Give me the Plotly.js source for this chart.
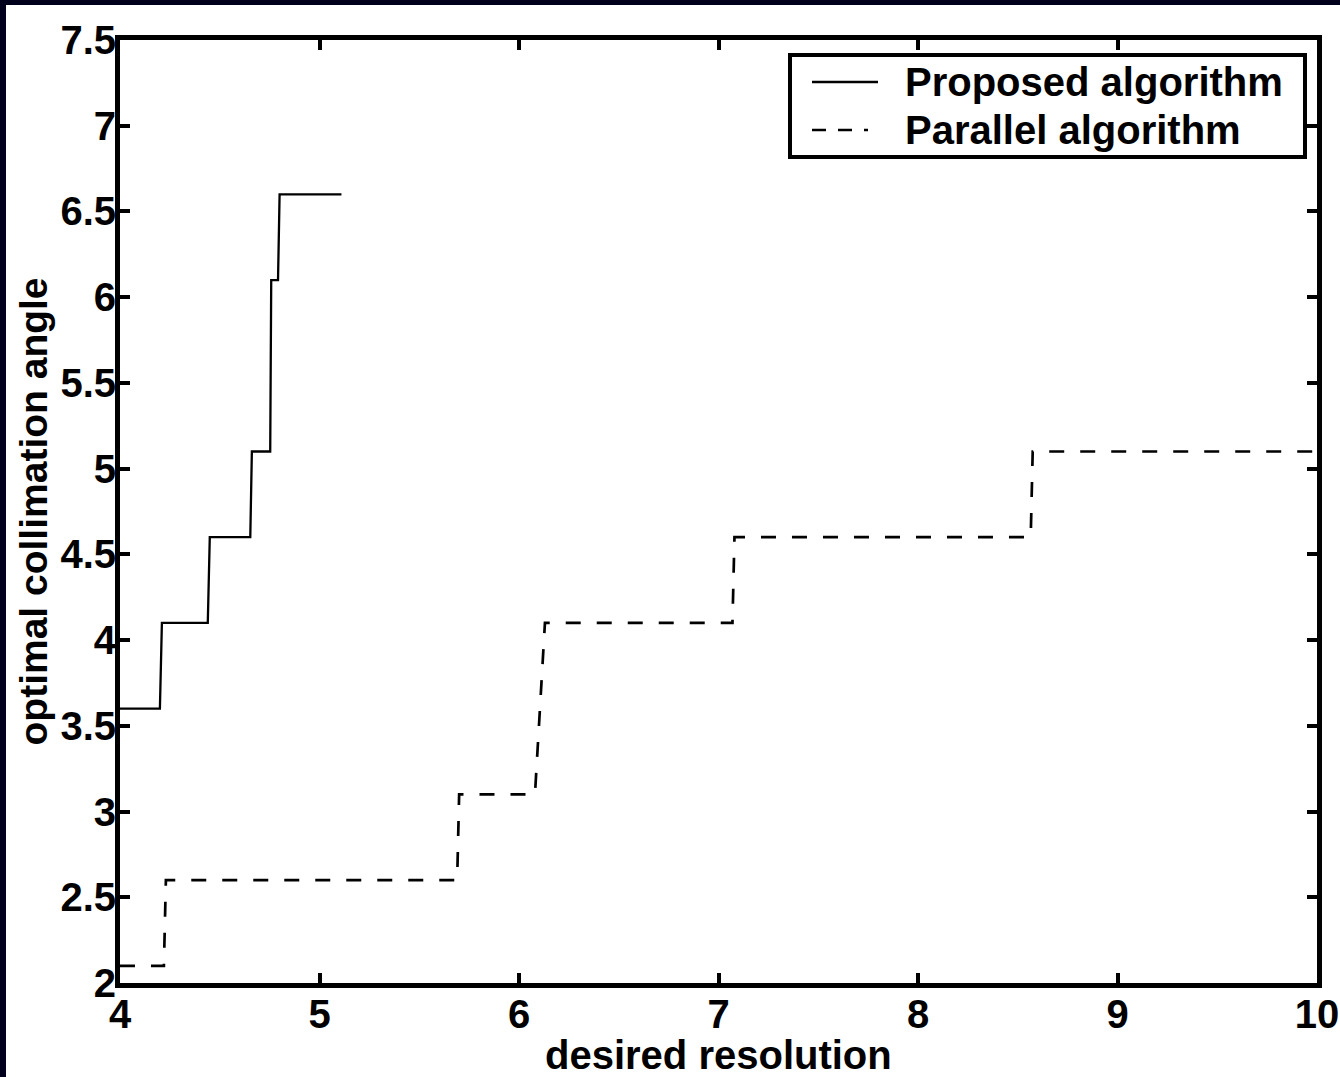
<!DOCTYPE html>
<html>
<head>
<meta charset="utf-8">
<script src="https://cdn.plot.ly/plotly-3.0.1.min.js"></script>
<style>
html,body{margin:0;padding:0;background:#00001c;width:1340px;height:1077px;overflow:hidden;}
#chart{position:absolute;left:6px;top:5px;width:1334px;height:1072px;background:#fff;}
</style>
</head>
<body>
<div id="chart"></div>
<script>
// Proposed algorithm (solid step line)
const proposedX = [4.0, 4.20, 4.21, 4.44, 4.45, 4.653, 4.661, 4.753, 4.758, 4.792, 4.80, 5.11];
const proposedY = [3.6, 3.6, 4.1, 4.1, 4.6, 4.6, 5.1, 5.1, 6.1, 6.1, 6.6, 6.6];
// Parallel algorithm (dashed step line)
const parallelX = [4.0, 4.22, 4.23, 5.69, 5.70, 6.08, 6.13, 7.07, 7.08, 8.565, 8.575, 10.0];
const parallelY = [2.1, 2.1, 2.6, 2.6, 3.1, 3.1, 4.1, 4.1, 4.6, 4.6, 5.1, 5.1];
const xTicks = [4, 5, 6, 7, 8, 9, 10];
const yTicks = [2, 2.5, 3, 3.5, 4, 4.5, 5, 5.5, 6, 6.5, 7, 7.5];
const seriesNames = ['Proposed algorithm', 'Parallel algorithm'];
const xTitle = 'desired resolution';
const yTitle = 'optimal collimation angle';

const F = {family: 'Liberation Sans, Arial, sans-serif', size: 40, weight: 'bold', color: '#000'};
const FT = {family: 'Liberation Sans, Arial, sans-serif', size: 39, weight: 'bold', color: '#000'};

const solidLine = {color: '#000', width: 2.3};
const dashLine = {color: '#000', width: 2.7, dash: '15px,16px'};

const traces = [
  {x: proposedX, y: proposedY, type: 'scatter', mode: 'lines', name: seriesNames[0], line: solidLine},
  {x: parallelX, y: parallelY, type: 'scatter', mode: 'lines', name: seriesNames[1], line: dashLine}
];

// plot-area geometry (page pixels) used only to place the legend box
const M = {l: 114, r: 23, t: 35, b: 94};
const W = 1334, H = 1072, offX = 6, offY = 5;
const pL = offX + M.l, pW = W - M.l - M.r, pT = offY + M.t, pH = H - M.t - M.b;
const px = v => (v - pL) / pW;          // page x -> paper x
const py = v => (pT + pH - v) / pH;     // page y -> paper y

const axisCommon = {
  showline: true, linecolor: '#000', linewidth: 5, mirror: 'ticks',
  ticks: 'inside', ticklen: 10, tickwidth: 4, tickcolor: '#000',
  showgrid: false, zeroline: false, tickfont: F
};

const legendBox = {x0: 790, x1: 1305, y0: 55, y1: 157};
const rowY = [82, 130];

const layout = {
  width: W, height: H,
  margin: M,
  paper_bgcolor: '#fff', plot_bgcolor: '#fff',
  font: F,
  showlegend: false,
  xaxis: Object.assign({}, axisCommon, {range: [3.99999, 10.00001], tickvals: xTicks, ticktext: xTicks.map(String),
    ticklabelstandoff: -8}),
  yaxis: Object.assign({}, axisCommon, {range: [2, 7.5], tickvals: yTicks, ticktext: yTicks.map(String),
    ticklabelstandoff: -9}),
  shapes: [
    {type: 'rect', xref: 'paper', yref: 'paper', x0: px(legendBox.x0), x1: px(legendBox.x1),
     y0: py(legendBox.y1), y1: py(legendBox.y0), fillcolor: '#fff', line: {color: '#000', width: 4}, layer: 'above'},
    {type: 'line', xref: 'paper', yref: 'paper', x0: px(812), x1: px(878), y0: py(rowY[0]), y1: py(rowY[0]),
     line: solidLine, layer: 'above'},
    {type: 'line', xref: 'paper', yref: 'paper', x0: px(812), x1: px(868), y0: py(rowY[1]), y1: py(rowY[1]),
     line: {color: '#000', width: 2.5, dash: '14px,12px'}, layer: 'above'}
  ],
  annotations: [
    {text: seriesNames[0], xref: 'paper', yref: 'paper', x: px(903), y: py(rowY[0]), xanchor: 'left', yanchor: 'middle',
     showarrow: false, font: F},
    {text: seriesNames[1], xref: 'paper', yref: 'paper', x: px(903), y: py(rowY[1]), xanchor: 'left', yanchor: 'middle',
     showarrow: false, font: F},
    {text: xTitle, xref: 'paper', yref: 'paper', x: 0.5, y: py(1055), xanchor: 'center', yanchor: 'middle',
     showarrow: false, font: F},
    {text: yTitle, xref: 'paper', yref: 'paper', x: px(33), y: 0.5, xanchor: 'center', yanchor: 'middle',
     textangle: -90, showarrow: false, font: FT}
  ]
};

Plotly.newPlot('chart', traces, layout, {displayModeBar: false, staticPlot: true});
</script>
</body>
</html>
